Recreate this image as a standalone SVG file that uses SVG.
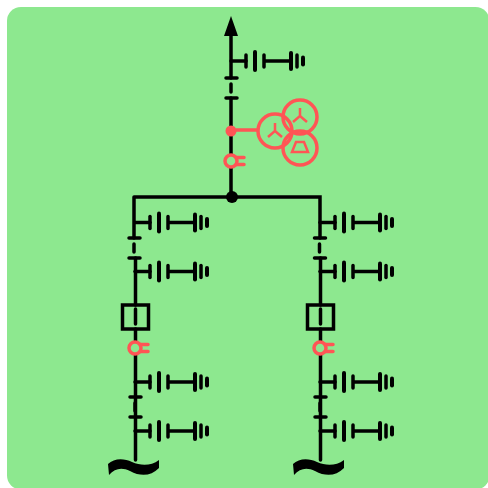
<svg xmlns="http://www.w3.org/2000/svg" width="488" height="488" viewBox="0 0 488 488">
<style>
.k{fill:none;stroke:#000;stroke-width:3.500;stroke-linecap:round}
.b{fill:none;stroke:#000;stroke-width:4;stroke-linecap:round}
.r{fill:none;stroke:#ff5555;stroke-width:3.500}
.t{fill:none;stroke:#ff5555;stroke-width:2.500}
</style>
<defs>
<g id="es">
<path class="k" d="M0 0H15"/>
<path class="k" d="M15 -6V6"/>
<path class="b" d="M24 -9V9"/>
<path class="k" d="M33 -6V6M33 0H60"/>
<path class="b" d="M60 -8V8"/>
<path class="k" d="M66 -6V6"/>
<path class="b" d="M72 -3.500V3.500"/>
</g>
<g id="sw">
<path class="k" d="M-5.500 0H5.500M-0.500 6V14"/>
<path class="k" d="M-5.500 20H5.500"/>
</g>
<g id="ct">
<path d="M5 -3.500H13M5 3.500H13" fill="none" stroke="#ff5555" stroke-width="3.500" stroke-linecap="round"/>
<circle r="6" fill="#8de88f" stroke="#ff5555" stroke-width="3.500"/>
</g>
<path id="wave" d="M108 464C114 458 124 458 132 462C141 466 151 466 159 460L159 468C151 476 141 477 130 471C122 467 115 468 109 475Z" fill="#000"/>
</defs>
<rect x="7" y="7" width="482.500" height="482.500" rx="14" fill="#8de88f"/>
<g id="connectors">
<path class="k" d="M231 34V78M231 98V197M134 197H320V238M134 197V238M135.500 258V305M135.500 329V460M320.500 258V305M320.500 329V460"/>
</g>
<g id="arrow"><path d="M231 16L238 36H224Z" fill="#000"/></g>
<g id="top-es"><use href="#es" x="231" y="61"/></g>
<g id="top-sw"><use href="#sw" x="231.500" y="78"/></g>
<g id="transformer">
<circle cx="231" cy="131" r="5.500" fill="#ff5555"/>
<path class="r" d="M236 130H258"/>
<circle class="r" cx="275" cy="131" r="17"/>
<circle class="r" cx="300" cy="117" r="17"/>
<circle class="r" cx="300" cy="148" r="17"/>
<path class="t" d="M275 123V131L268 137M275 131L282 137M300 108V116L293 122M300 116L307 122M296 142H304L308 152H292Z"/>
</g>
<g id="top-ct"><use href="#ct" x="231" y="161"/></g>
<g id="bus"><circle cx="232" cy="197" r="6" fill="#000"/></g>
<g id="left-feeder">
<use href="#es" x="135" y="222.500"/>
<use href="#sw" x="134.500" y="238"/>
<use href="#es" x="135" y="271.500"/>
<rect x="122.500" y="305" width="26" height="24" fill="none" stroke="#000" stroke-width="3.500"/>
<path class="k" d="M135.500 309V324"/>
<use href="#ct" x="135" y="348"/>
<use href="#es" x="135" y="382"/>
<use href="#sw" x="135.500" y="397"/>
<use href="#es" x="135" y="431"/>
<use href="#wave"/>
</g>
<g id="right-feeder">
<use href="#es" x="320" y="222.500"/>
<use href="#sw" x="320" y="238"/>
<use href="#es" x="320" y="271.500"/>
<rect x="307.500" y="305" width="26" height="24" fill="none" stroke="#000" stroke-width="3.500"/>
<path class="k" d="M320.500 309V324"/>
<use href="#ct" x="320" y="348"/>
<use href="#es" x="320" y="382"/>
<use href="#sw" x="320.500" y="397"/>
<use href="#es" x="320" y="431"/>
<use href="#wave" x="185"/>
</g>
</svg>
